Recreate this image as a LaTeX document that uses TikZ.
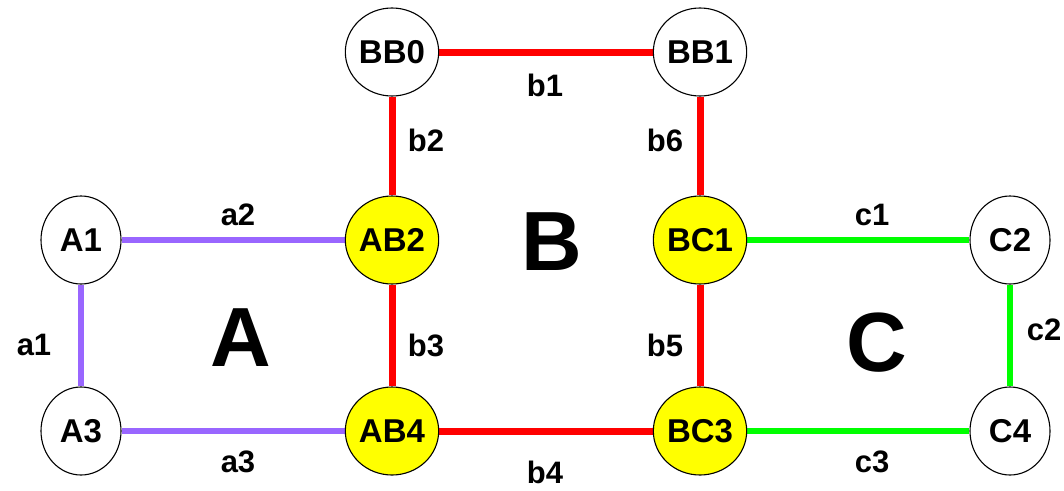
\documentclass[tikz,border=0pt]{standalone}
\usepackage{fontspec}
\setmainfont{Liberation Sans}
\usetikzlibrary{shapes.geometric,backgrounds}
\definecolor{lpurple}{RGB}{153,102,255}
\definecolor{lgreen}{RGB}{0,255,0}
\definecolor{lred}{RGB}{255,0,0}
\definecolor{lyellow}{RGB}{255,255,0}
\tikzset{
  vnode/.style={ellipse,draw=black,line width=1.1pt,minimum width=80pt,minimum height=88pt,inner sep=0pt,fill=white,font=\fontsize{33}{33}\selectfont\bfseries},
  ynode/.style={vnode,fill=lyellow},
  elabel/.style={font=\fontsize{31}{31}\selectfont\bfseries,inner sep=0pt},
  region/.style={font=\fontsize{84}{84}\selectfont\bfseries,inner sep=0pt},
  pedge/.style={draw=lpurple,line width=6pt},
  redge/.style={draw=lred,line width=7pt},
  gedge/.style={draw=lgreen,line width=6pt}
}
\begin{document}
\begin{tikzpicture}[x=1pt,y=-1pt]
\useasboundingbox (0,0) rectangle (1064,490);
\node[vnode] (BB0) at (392,52) {BB0};
\node[vnode] (BB1) at (700,52) {BB1};
\node[vnode] (A1) at (81,240) {A1};
\node[ynode] (AB2) at (392,240) {AB2};
\node[ynode] (BC1) at (700,240) {BC1};
\node[vnode] (C2) at (1010,240) {C2};
\node[vnode] (A3) at (81,431) {A3};
\node[ynode] (AB4) at (392,431) {AB4};
\node[ynode] (BC3) at (700,431) {BC3};
\node[vnode] (C4) at (1010,431) {C4};
\begin{pgfonlayer}{background}
\draw[pedge] (A1) -- (AB2);
\draw[pedge] (A1) -- (A3);
\draw[pedge] (A3) -- (AB4);
\draw[redge] (BB0) -- (BB1);
\draw[redge] (BB0) -- (AB2);
\draw[redge] (BB1) -- (BC1);
\draw[redge] (AB2) -- (AB4);
\draw[redge] (BC1) -- (BC3);
\draw[redge] (AB4) -- (BC3);
\draw[gedge] (BC1) -- (C2);
\draw[gedge] (C2) -- (C4);
\draw[gedge] (BC3) -- (C4);
\end{pgfonlayer}
\node[elabel] (la2) at (238,215) {a2};
\node[elabel] (la1) at (34,345) {a1};
\node[elabel] (la3) at (238,462) {a3};
\node[elabel] (lb1) at (545,85) {b1};
\node[elabel] (lb2) at (426,140) {b2};
\node[elabel] (lb6) at (665,140) {b6};
\node[elabel] (lb3) at (426,345) {b3};
\node[elabel] (lb5) at (665,345) {b5};
\node[elabel] (lb4) at (545,472) {b4};
\node[elabel] (lc1) at (872,215) {c1};
\node[elabel] (lc2) at (1044,330) {c2};
\node[elabel] (lc3) at (872,462) {c3};
\node[region] (RA) at (241,338) {A};
\node[region] (RB) at (552,242) {B};
\node[region] (RC) at (877,343) {C};
\end{tikzpicture}
\end{document}
